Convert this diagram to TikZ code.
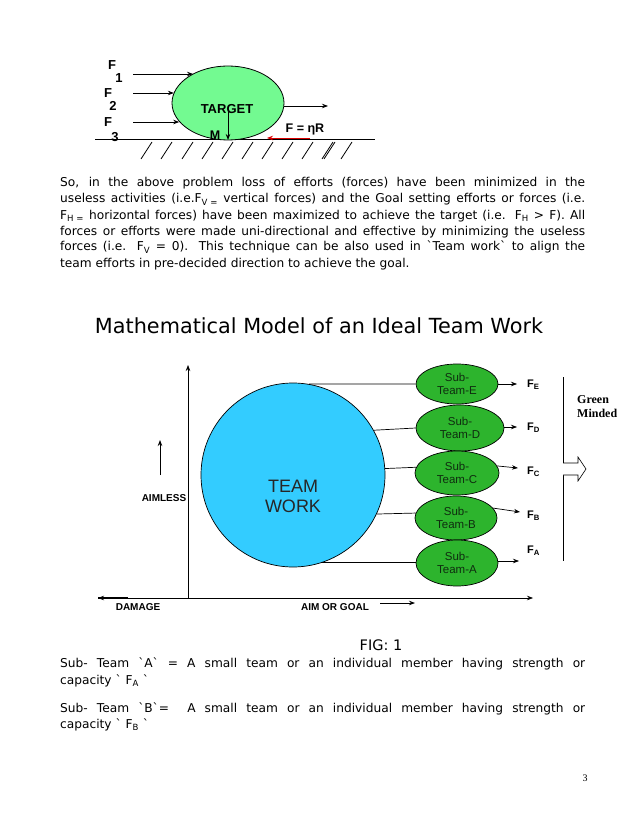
\documentclass[tikz,border=0pt]{standalone}
\usepackage{fontspec}
\setmainfont{DejaVu Sans}
\newfontfamily\arialf{Liberation Sans}
\newfontfamily\tnrf{Liberation Serif}
\usetikzlibrary{arrows.meta,shapes.geometric}
\definecolor{targetgreen}{RGB}{115,250,145}
\definecolor{teamblue}{RGB}{51,204,255}
\definecolor{subgreen}{RGB}{45,180,45}
\definecolor{subtext}{RGB}{15,45,15}
\newcommand\grv{\textasciigrave}
\begin{document}
\begin{tikzpicture}[x=1pt,y=-1pt,
  lbl/.style={font=\arialf\bfseries\fontsize{13}{15}\selectfont, inner sep=0},
  axlbl/.style={font=\arialf\bfseries\fontsize{10}{12}\selectfont, inner sep=0},
  arr/.style={-{Stealth[length=6pt,width=4.5pt]}, line width=0.8pt},
  thinl/.style={line width=0.7pt},
  bodyline/.style={anchor=base west, inner sep=0, font=\fontsize{12.2}{16}\selectfont},
  subteam/.style={ellipse, draw=black, line width=0.7pt, fill=subgreen, inner sep=0,
     align=center, text=subtext, font=\arialf\fontsize{11.5}{13}\selectfont},
  flbl/.style={anchor=west, inner sep=0, font=\arialf\bfseries\fontsize{11}{13}\selectfont}]
\useasboundingbox (0,0) rectangle (638,826);
\fill[white] (0,0) rectangle (638,826);

% ---------- top diagram ----------
\draw[line width=0.8pt] (95,139.5) -- (375,139.5);
\foreach \x in {141,161,182,202,222,242,262,282,302,322,341}
  \draw[line width=0.8pt] (\x,159) -- (\x+11,142);
\draw[line width=0.8pt] (324,159) -- (335,142);

\node[ellipse, draw=black, line width=0.8pt, fill=targetgreen, minimum width=112, minimum height=74, inner sep=0] (target) at (228,103) {};
\node[font=\arialf\bfseries\fontsize{13}{15}\selectfont, inner sep=0] (tt) at (227,109) {TARGET};
\node[font=\arialf\bfseries\fontsize{12.5}{14}\selectfont, inner sep=0] (m) at (215,135) {M};
\node[font=\arialf\bfseries\fontsize{12.5}{14}\selectfont, inner sep=0] (fnr) at (305,129) {F = ηR};

\node[lbl] (F1) at (112,65) {F};  \node[lbl] (n1) at (119,78) {1};
\node[lbl] (F2) at (108,93) {F};  \node[lbl] (n2) at (113,106) {2};
\node[lbl] (F3) at (108,122) {F}; \node[lbl] (n3) at (115,137) {3};

\coordinate (f1s) at (133,74);
\coordinate (f2s) at (133,93);
\coordinate (f3s) at (133,122);
\draw[arr] (f1s) -- (target.140 |- f1s);
\draw[arr] (f2s) -- (target.169 |- f2s);
\draw[arr] (f3s) -- (target.201 |- f3s);
\coordinate (rte) at (328,106);
\draw[arr] (target.-3 |- rte) -- (rte);
\coordinate (vtop) at (228,112);
\coordinate (vbot) at (228,140);
\draw[arr] (vtop) -- (vbot);
\coordinate (reds) at (310,138);
\coordinate (rede) at (267,138);
\draw[arr, red!85!black] (reds) -- (rede);

% ---------- paragraph ----------
\node[bodyline] (p1) at (60,187) {\makebox[525pt][s]{So, in the above problem loss of efforts (forces) have been minimized in the}};
\node[bodyline] (p2) at (60,203) {\makebox[525pt][s]{useless activities (i.e.F\textsubscript{V =} vertical forces) and the Goal setting efforts or forces (i.e.}};
\node[bodyline] (p3) at (60,219) {\makebox[525pt][s]{F\textsubscript{H =} horizontal forces) have been maximized to achieve the target (i.e. F\textsubscript{H} > F). All}};
\node[bodyline] (p4) at (60,235) {\makebox[525pt][s]{forces or efforts were made uni-directional and effective by minimizing the useless}};
\node[bodyline] (p5) at (60,251) {\makebox[525pt][s]{forces (i.e. F\textsubscript{V} = 0). This technique can be also used in \grv Team work\grv{} to align the}};
\node[bodyline] (p6) at (60,267) {team efforts in pre-decided direction to achieve the goal.};

% ---------- title ----------
\node[anchor=base, inner sep=0, font=\fontsize{20.8}{24}\selectfont] (title) at (319,333) {Mathematical Model of an Ideal Team Work};

% ---------- main diagram ----------
\coordinate (o) at (188,598);
\coordinate (ytop) at (188,365);
\coordinate (xl) at (98,598);
\coordinate (xr) at (533,598);
\draw[arr, line width=0.7pt] (o) -- (ytop);
\draw[thinl, {Stealth[length=6pt,width=4.5pt]}-{Stealth[length=6pt,width=4.5pt]}] (xl) -- (xr);
\draw[line width=1.2pt] (98,598) -- (128,598);
\coordinate (ua) at (160,475);
\coordinate (ub) at (160,440);
\draw[arr] (ua) -- (ub);
\node[axlbl] (aimless) at (164,498) {AIMLESS};
\node[axlbl] (damage) at (138,607) {DAMAGE};
\node[axlbl] (aim) at (335,607) {AIM OR GOAL};
\coordinate (ga) at (380,603);
\coordinate (gb) at (415,603);
\draw[arr] (ga) -- (gb);

\node[circle, draw=black, line width=0.7pt, fill=teamblue, minimum size=184, inner sep=0] (team) at (293,475) {};
\node[align=center, inner sep=0, font=\arialf\fontsize{18}{20}\selectfont, text=black!85] (tw) at (293,496) {TEAM\\WORK};

\node[subteam, minimum width=82, minimum height=40] (sE) at (457,384) {Sub-\\Team-E};
\node[subteam, minimum width=88, minimum height=46] (sD) at (460,428) {Sub-\\Team-D};
\node[subteam, minimum width=84, minimum height=44] (sC) at (457,473) {Sub-\\Team-C};
\node[subteam, minimum width=82, minimum height=44] (sB) at (456,518) {Sub-\\Team-B};
\node[subteam, minimum width=82, minimum height=46] (sA) at (457,563) {Sub-\\Team-A};

\draw[thinl] (team.80) -- (sE.west);
\draw[thinl] (team.29) -- (sD.west);
\draw[thinl] (team.4) -- (sC.172);
\draw[thinl] (team.-25) -- (sB.173);
\draw[thinl] (team.-72) -- (sA.west |- team.-72);

\coordinate (eE) at (517,384);
\coordinate (eD) at (517,427);
\coordinate (eC) at (518,468);
\coordinate (eB) at (520,512);
\coordinate (eA) at (519,561);
\draw[arr, line width=0.7pt] (sE.east |- eE) -- (eE);
\draw[arr, line width=0.7pt] (sD.east |- eD) -- (eD);
\draw[arr, line width=0.7pt] (sC.10) -- (eC);
\draw[arr, line width=0.7pt] (sB.15) -- (eB);
\draw[arr, line width=0.7pt] (sA.east |- eA) -- (eA);

\node[flbl] (lE) at (527,385) {F\textsubscript{E}};
\node[flbl] (lD) at (527,428) {F\textsubscript{D}};
\node[flbl] (lC) at (527,472) {F\textsubscript{C}};
\node[flbl] (lB) at (527,516) {F\textsubscript{B}};
\node[flbl] (lA) at (527,551) {F\textsubscript{A}};

\coordinate (vt) at (563,377);
\coordinate (vb) at (563,561);
\draw[line width=0.9pt] (vt) -- (vb);
\draw[line width=0.6pt, fill=white] (563,463) -- (578,463) -- (578,457) -- (586,469) -- (578,481) -- (578,475) -- (563,475);
\node[anchor=base west, inner sep=0, align=left, font=\tnrf\bfseries\fontsize{12}{14}\selectfont] (gm) at (577,417) {Green\\Minded};

% ---------- caption & definitions ----------
\node[anchor=base, inner sep=0, font=\fontsize{14.5}{16}\selectfont] (fig) at (381,650) {FIG: 1};
\node[bodyline] (d1) at (60,667) {\makebox[525pt][s]{Sub- Team \grv A\grv{} = A small team or an individual member having strength or}};
\node[bodyline] (d2) at (60,684) {capacity \grv{} F\textsubscript{A} \grv};
\node[bodyline] (d3) at (60,712) {\makebox[525pt][s]{Sub- Team \grv B\grv= \ A small team or an individual member having strength or}};
\node[bodyline] (d4) at (60,728) {capacity \grv{} F\textsubscript{B} \grv};

\node[inner sep=0, font=\tnrf\fontsize{10}{12}\selectfont] (pg) at (585,778) {3};
\end{tikzpicture}
\end{document}
